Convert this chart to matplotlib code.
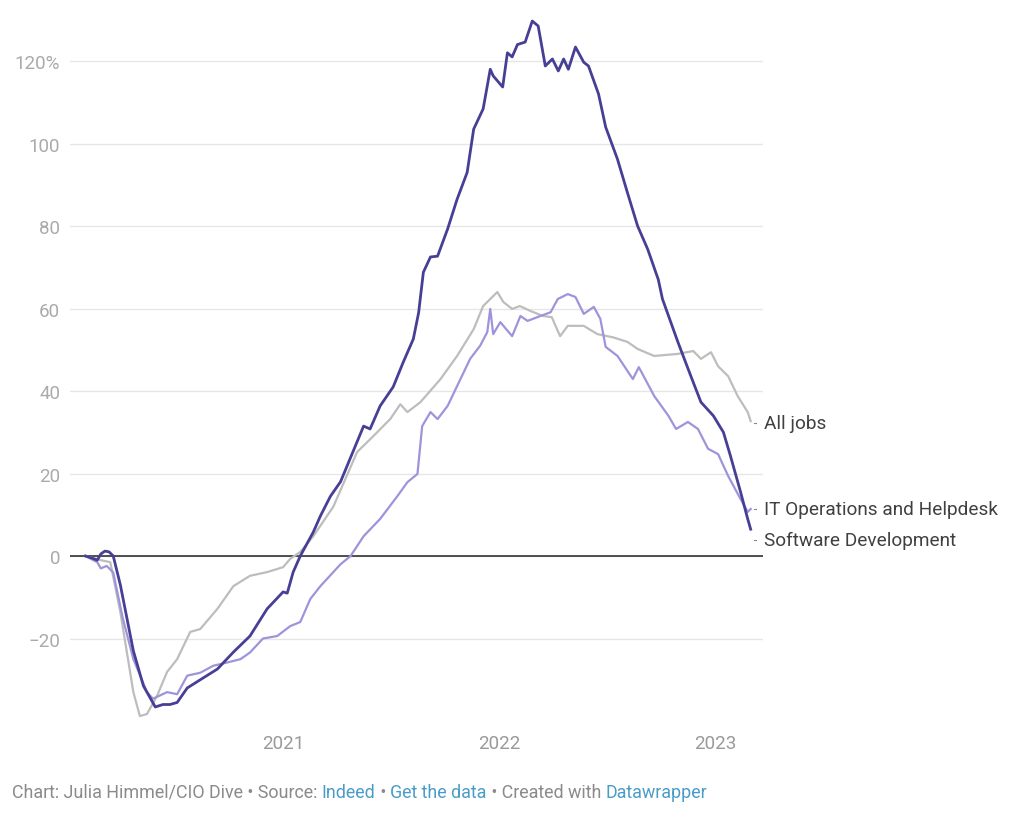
import matplotlib.pyplot as plt
import matplotlib.dates as mdates
import pandas as pd

plt.rcParams["font.family"] = ["Roboto", "DejaVu Sans"]

# Software Development (% change since Feb 1, 2020)
sd_dates = [
    "2020-02-01", "2020-02-12", "2020-02-21", "2020-02-27", "2020-03-05", "2020-03-12",
    "2020-03-19", "2020-03-31", "2020-04-11", "2020-04-22", "2020-05-09", "2020-05-29",
    "2020-06-11", "2020-06-23", "2020-07-05", "2020-07-22", "2020-08-13", "2020-09-11",
    "2020-10-08", "2020-11-05", "2020-12-04", "2020-12-31", "2021-01-07", "2021-01-17",
    "2021-01-29", "2021-02-20", "2021-03-04", "2021-03-21", "2021-04-07", "2021-05-16",
    "2021-05-27", "2021-06-13", "2021-07-05", "2021-07-22", "2021-08-08", "2021-08-17",
    "2021-08-25", "2021-09-06", "2021-09-18", "2021-10-05", "2021-10-21", "2021-11-07",
    "2021-11-18", "2021-12-04", "2021-12-16", "2021-12-21", "2022-01-06", "2022-01-14",
    "2022-01-22", "2022-01-31", "2022-02-13", "2022-02-25", "2022-03-07", "2022-03-19",
    "2022-03-31", "2022-04-10", "2022-04-19", "2022-04-27", "2022-05-09", "2022-05-23",
    "2022-05-31", "2022-06-17", "2022-06-29", "2022-07-19", "2022-08-05", "2022-08-22",
    "2022-09-08", "2022-09-26", "2022-10-03", "2022-10-29", "2022-11-20", "2022-12-07",
    "2022-12-28", "2023-01-14", "2023-01-26", "2023-02-12", "2023-02-24", "2023-03-01",
]
sd_vals = [
    0, -0.5, -1, 0.5, 1.2, 1,
    0, -7, -15, -23, -31.5, -36.6,
    -36, -36, -35.5, -32, -30, -27.4,
    -23.3, -19.4, -12.8, -8.7, -9, -3.9,
    0, 5.8, 9.7, 14.5, 18, 31.5,
    30.8, 36.4, 41, 47, 52.6, 59,
    68.8, 72.5, 72.7, 79.3, 86.5, 93,
    103.5, 108.4, 118, 116.4, 113.7, 122,
    121, 124, 124.6, 129.7, 128.5, 118.8,
    120.5, 117.6, 120.5, 118, 123.4, 119.7,
    118.8, 112, 104, 96.2, 88, 80,
    74.4, 67, 62.3, 51.9, 43.6, 37.3,
    34, 30, 24.2, 15.5, 9, 6.5,
]

# IT Operations and Helpdesk
it_dates = [
    "2020-02-01", "2020-02-21", "2020-02-27", "2020-03-08", "2020-03-19", "2020-04-04",
    "2020-04-22", "2020-05-15", "2020-05-25", "2020-06-18", "2020-07-05", "2020-07-22",
    "2020-08-13", "2020-09-04", "2020-09-28", "2020-10-20", "2020-11-05", "2020-11-27",
    "2020-12-21", "2021-01-12", "2021-01-29", "2021-02-15", "2021-03-04", "2021-04-07",
    "2021-04-24", "2021-05-16", "2021-06-13", "2021-07-12", "2021-07-29", "2021-08-15",
    "2021-08-23", "2021-09-06", "2021-09-18", "2021-10-05", "2021-10-21", "2021-11-12",
    "2021-11-29", "2021-12-11", "2021-12-16", "2021-12-21", "2022-01-02", "2022-01-22",
    "2022-02-05", "2022-02-17", "2022-03-11", "2022-03-28", "2022-04-09", "2022-04-26",
    "2022-05-09", "2022-05-23", "2022-06-09", "2022-06-20", "2022-06-29", "2022-07-19",
    "2022-08-14", "2022-08-24", "2022-09-19", "2022-10-13", "2022-10-26", "2022-11-15",
    "2022-12-02", "2022-12-19", "2023-01-05", "2023-01-22", "2023-02-12", "2023-02-24",
    "2023-03-01",
]
it_vals = [
    0, -1.5, -3, -2.4, -4, -15,
    -25, -33, -34.6, -33, -33.5, -29,
    -28.3, -26.6, -25.8, -25, -23.4, -20,
    -19.4, -17, -16, -10.4, -7.3, -2,
    0, 4.8, 9, 14.5, 17.9, 19.9,
    31.5, 34.9, 33.2, 36.4, 41.2, 47.8,
    51, 54.3, 59.9, 53.8, 56.7, 53.3,
    58.2, 57, 58.2, 59.1, 62.3, 63.5,
    62.8, 58.7, 60.4, 57.5, 50.7, 48.5,
    42.9, 45.8, 38.8, 34, 30.8, 32.5,
    30.8, 26, 24.7, 19.4, 13.8, 10.7,
    11.4,
]

# All jobs
all_dates = [
    "2020-02-01", "2020-02-27", "2020-03-14", "2020-03-31", "2020-04-11", "2020-04-22",
    "2020-05-03", "2020-05-15", "2020-06-01", "2020-06-18", "2020-07-05", "2020-07-27",
    "2020-08-13", "2020-09-11", "2020-10-08", "2020-11-05", "2020-12-04", "2020-12-31",
    "2021-01-12", "2021-01-29", "2021-02-20", "2021-03-26", "2021-05-05", "2021-06-01",
    "2021-06-30", "2021-07-17", "2021-07-29", "2021-08-20", "2021-09-23", "2021-10-21",
    "2021-11-18", "2021-12-04", "2021-12-28", "2022-01-07", "2022-01-22", "2022-02-04",
    "2022-02-22", "2022-03-15", "2022-03-30", "2022-04-13", "2022-04-26", "2022-05-23",
    "2022-06-15", "2022-07-12", "2022-08-05", "2022-08-22", "2022-09-19", "2022-10-29",
    "2022-11-24", "2022-12-07", "2022-12-24", "2023-01-05", "2023-01-22", "2023-02-07",
    "2023-02-24", "2023-03-01",
]
all_vals = [
    0, -1, -1.5, -13.6, -23.3, -33,
    -38.8, -38.3, -33.9, -28.1, -25, -18.4,
    -17.7, -12.8, -7.3, -4.8, -3.9, -2.7,
    -0.7, 1, 4.8, 12, 25.2, 29,
    33.2, 36.8, 34.9, 37.3, 42.9, 48.5,
    55, 60.6, 64, 61.6, 59.9, 60.6,
    59.4, 58.2, 57.9, 53.3, 55.8, 55.8,
    53.8, 53, 51.9, 50.2, 48.5, 49,
    49.7, 47.8, 49.4, 46, 43.6, 38.8,
    34.9, 32.7,
]

yticks = [-20, 0, 20, 40, 60, 80, 100, 120]
ytick_labels = ["\u221220", "0", "20", "40", "60", "80", "100", "120%"]
xtick_years = ["2021-01-01", "2022-01-01", "2023-01-01"]

fig = plt.figure(figsize=(10.24, 8.2), dpi=100)
ax = fig.add_axes([0.0684, 0.1195, 0.6768, 0.8652])

# name, dates, values, colour, line width, label nudge (to avoid overlap)
series = [
    ("All jobs", all_dates, all_vals, "#bdbdbd", 1.6, -0.5),
    ("IT Operations and Helpdesk", it_dates, it_vals, "#9d94db", 1.6, 0),
    ("Software Development", sd_dates, sd_vals, "#463f95", 2.0, -2.6),
]

for i, (name, d, v, color, lw, dy) in enumerate(series):
    x = pd.to_datetime(d)
    ax.plot(x, v, color=color, lw=lw, zorder=3 + i, solid_joinstyle="round")
    ly = v[-1] + dy
    ax.plot([x[-1] + pd.Timedelta(days=6), x[-1] + pd.Timedelta(days=9)],
            [ly, ly], color="#888888", lw=0.8, clip_on=False)
    ax.text(pd.Timestamp("2023-03-24"), ly, name, fontsize=13.7, color="#404040",
            va="center", ha="left", clip_on=False)

ax.set_xlim(pd.Timestamp("2020-01-06"), pd.Timestamp("2023-03-22"))
ax.set_ylim(-40, 132)

ax.set_yticks(yticks)
ax.set_yticklabels(ytick_labels)
ax.set_xticks(pd.to_datetime(xtick_years))
ax.xaxis.set_major_formatter(mdates.DateFormatter("%Y"))

ax.grid(axis="y", color="#e6e6e6", lw=1)
ax.axhline(0, color="#333333", lw=1.2, zorder=2)
for s in ax.spines.values():
    s.set_visible(False)
ax.tick_params(axis="y", length=0, pad=7, labelsize=13.5, labelcolor="#aaaaaa")
ax.tick_params(axis="x", length=0, pad=9, labelsize=13.5, labelcolor="#999999")
ax.set_axisbelow(True)

# footer, link words in blue, pieces chained one after another
parts = [
    ("Chart: Julia Himmel/CIO Dive \u2022 Source: ", "#8a8a8a"),
    ("Indeed", "#4a9cc7"),
    (" \u2022 ", "#8a8a8a"),
    ("Get the data", "#4a9cc7"),
    (" \u2022 Created with ", "#8a8a8a"),
    ("Datawrapper", "#4a9cc7"),
]
anchor = fig.text(12 / 1024, 1 - 793 / 820, parts[0][0], fontsize=12.9,
                  color=parts[0][1], va="center", ha="left")
for txt, col in parts[1:]:
    anchor = ax.annotate(txt, xy=(1, 0.5), xycoords=anchor, va="center", ha="left",
                         fontsize=12.9, color=col, annotation_clip=False)

plt.savefig("out.png", dpi=100)
plt.close()
